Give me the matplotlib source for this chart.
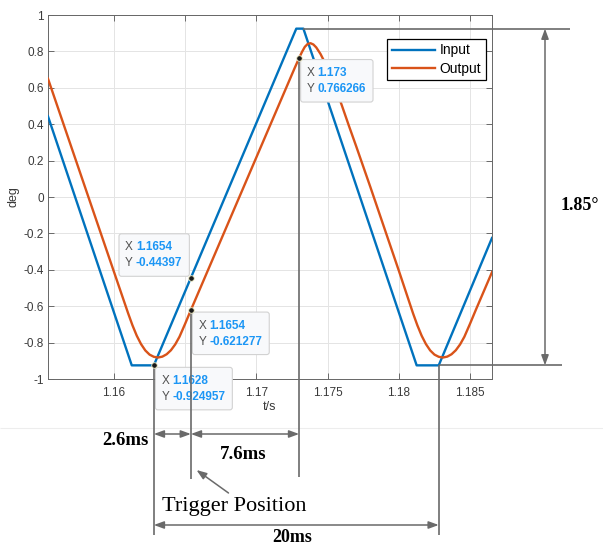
import matplotlib
matplotlib.use('Agg')
import matplotlib.pyplot as plt
from matplotlib.transforms import IdentityTransform
from matplotlib.patches import FancyArrowPatch, FancyBboxPatch
from matplotlib.lines import Line2D

plt.rcParams['font.family'] = ['Liberation Sans', 'DejaVu Sans']

# ---------------- data ----------------
input_t = [1.15537, 1.16125, 1.16280, 1.17280, 1.17330, 1.18125, 1.18280, 1.18654]
input_y = [0.443, -0.925, -0.925, 0.925, 0.925, -0.925, -0.925, -0.225]

output_t = [1.15537, 1.1610, 1.1613, 1.1616, 1.1619, 1.1622, 1.1625, 1.1628, 1.1631,
            1.1634, 1.1637, 1.1640, 1.1643, 1.1646, 1.1650, 1.1654,
            1.1727, 1.1730, 1.1732, 1.1734, 1.1736, 1.1738, 1.1740, 1.1742, 1.1745,
            1.1748, 1.1752, 1.1756, 1.1760, 1.1765, 1.1770, 1.1780, 1.1800,
            1.1810, 1.1813, 1.1816, 1.1819, 1.1822, 1.1825, 1.1828, 1.1831,
            1.1834, 1.1837, 1.1840, 1.1843, 1.1846, 1.1850, 1.1854, 1.18654]
output_y = [0.650, -0.640, -0.705, -0.762, -0.808, -0.843, -0.866, -0.878, -0.882,
            -0.877, -0.864, -0.842, -0.810, -0.768, -0.696, -0.621,
            0.711, 0.764, 0.797, 0.825, 0.841, 0.845, 0.838, 0.822, 0.786,
            0.740, 0.668, 0.590, 0.503, 0.390, 0.280, 0.055, -0.405,
            -0.640, -0.705, -0.762, -0.808, -0.843, -0.866, -0.878, -0.882,
            -0.877, -0.864, -0.842, -0.810, -0.768, -0.696, -0.621, -0.413]

series_labels = ['Input', 'Output']
x_limits = [1.15537, 1.18654]
y_limits = [-1, 1]
xticks = [1.16, 1.165, 1.17, 1.175, 1.18, 1.185]
# the 1.165 label is hidden behind a data tip in the original
xtick_labels = ['1.16', '', '1.17', '1.175', '1.18', '1.185']
yticks = [1, 0.8, 0.6, 0.4, 0.2, 0, -0.2, -0.4, -0.6, -0.8, -1]
ytick_labels = ['1', '0.8', '0.6', '0.4', '0.2', '0', '-0.2', '-0.4', '-0.6', '-0.8', '-1']
x_label = 't/s'
y_label = 'deg'

datatip_x = [1.173, 1.1654, 1.1654, 1.1628]
datatip_y = [0.766266, -0.44397, -0.621277, -0.924957]
datatip_xtext = ['1.173', '1.1654', '1.1654', '1.1628']
datatip_ytext = ['0.766266', '-0.44397', '-0.621277', '-0.924957']

clip_level = 0.925              # input clipping level (+/-)
peak_end_t = 1.1733             # end of input upper plateau
period_end_t = 1.1828           # trough one period (20 ms) later
amplitude_label = '1.85°'
interval_labels = ['2.6ms', '7.6ms', '20ms']
trigger_label = 'Trigger Position'

# ---------------- layout / style ----------------
W, H = 603, 547
BLUE = '#0072BD'
ORANGE = '#D95319'
ANN = '#6a6a6a'
TIPBLUE = '#1c96f5'

fig = plt.figure(figsize=(W / 100, H / 100), dpi=100)
fig.patch.set_facecolor('white')
ax = fig.add_axes([48 / W, 1 - 379 / H, 444 / W, 364 / H])

ax.plot(input_t, input_y, color=BLUE, lw=1.7, label=series_labels[0], zorder=3)
ax.plot(output_t, output_y, color=ORANGE, lw=1.7, label=series_labels[1], zorder=3)
ax.set_xlim(*x_limits)
ax.set_ylim(*y_limits)
ax.set_xticks(xticks, labels=xtick_labels)
ax.set_yticks(yticks, labels=ytick_labels)
ax.grid(True, color='#e4e4e4', lw=0.7)
ax.set_axisbelow(True)
ax.tick_params(direction='in', top=True, right=True, length=4, width=0.6,
               color='#555555', labelcolor='#3a3a3a', labelsize=8.5)
ax.tick_params(axis='x', pad=6)
ax.tick_params(axis='y', pad=3)
for s in ax.spines.values():
    s.set_color('#666666')
    s.set_linewidth(0.7)
ax.set_xlabel(x_label, fontsize=9, color='#3a3a3a')
ax.xaxis.set_label_coords(0.5, (379 - 401) / 364)
ax.set_ylabel(y_label, fontsize=9, color='#3a3a3a')
ax.yaxis.set_label_coords((19 - 48) / 444, 0.5)

leg = ax.legend(loc='upper right', bbox_to_anchor=((486 - 48) / 444, (379 - 38.5) / 364),
                frameon=True, fancybox=False, framealpha=1, edgecolor='black',
                fontsize=10, handlelength=3.1, handletextpad=0.35, borderpad=0.35,
                labelspacing=0.3, borderaxespad=0)
leg.get_frame().set_linewidth(0.9)


def D(x, y):
    return ax.transData.transform((x, y))


def py(ypx):
    return H - ypx


def line(x0, y0, x1, y1, **kw):
    fig.add_artist(Line2D([x0, x1], [y0, y1], transform=IdentityTransform(),
                          color=kw.get('color', ANN), lw=kw.get('lw', 1.2),
                          zorder=kw.get('zorder', 4), solid_capstyle='butt'))


def arrow(p0, p1, style='<|-|>'):
    a = FancyArrowPatch(p0, p1, transform=IdentityTransform(),
                        arrowstyle=style + ',head_length=0.6,head_width=0.22',
                        mutation_scale=10, color=ANN, lw=1.1, shrinkA=0, shrinkB=0,
                        zorder=4)
    fig.add_artist(a)


# faint separator line under the plot
line(0, py(428), W, py(428), color='#ededed', lw=0.8, zorder=0.5)

# ---------------- data tips ----------------
renderer = fig.canvas.get_renderer()
tip_dirs = ['se', 'nw', 'se', 'se']
for tx, ty, xs, ys, d in zip(datatip_x, datatip_y, datatip_xtext, datatip_ytext, tip_dirs):
    px, pyy = D(tx, ty)
    hbox = 42.5
    tmp = fig.text(0, 0, ys, fontsize=8.5, fontweight='bold', transform=IdentityTransform())
    wv = tmp.get_window_extent(renderer).width
    tmp.remove()
    wbox = 17 + wv + 7
    if d == 'se':
        left, top = px + 1.5, pyy - 2
    else:
        left, top = px - 1.5 - wbox, pyy + 1.5 + hbox
    box = FancyBboxPatch((left, top - hbox), wbox, hbox, transform=IdentityTransform(),
                         boxstyle='round,pad=0,rounding_size=2.5', fc='#f8f9fb',
                         ec='#d2d2d2', lw=0.8, zorder=2.5)
    fig.add_artist(box)
    for lab, val, dy in (('X', xs, 13.5), ('Y', ys, 29.5)):
        fig.text(left + 6, top - dy, lab, fontsize=8.5, color='#505050', va='center',
                 ha='left', transform=IdentityTransform(), zorder=3)
        fig.text(left + 17, top - dy, val, fontsize=8.5, color=TIPBLUE, fontweight='bold',
                 va='center', ha='left', transform=IdentityTransform(), zorder=3)

# ---------------- annotation lines ----------------
x_a, y_a = D(datatip_x[3], datatip_y[3])     # 1.1628 trough
x_b, y_b = D(datatip_x[2], datatip_y[2])     # 1.1654 trigger (output)
x_c, y_c = D(datatip_x[0], datatip_y[0])     # 1.173 output
x_d, y_d = D(period_end_t, -clip_level)      # next trough
x_p, y_top = D(peak_end_t, clip_level)

line(x_a, y_a, x_a, py(535))
line(x_b, y_b, x_b, py(479))
line(x_c, y_c, x_c, py(477))
line(x_d, y_d, x_d, py(535))
line(x_p, y_top, 570, y_top)
line(x_d, y_d, 562, y_d)

# amplitude arrow
arrow((545, y_top), (545, y_d))
fig.text(580, py(210), amplitude_label, fontsize=13, fontweight='bold', ha='center',
         va='baseline', family='Liberation Serif', transform=IdentityTransform())

# interval arrows
arrow((x_a, py(434)), (x_b, py(434)))
arrow((x_b, py(434)), (x_c, py(434)))
arrow((x_a, py(525)), (x_d, py(525)))
fig.text(125, py(445), interval_labels[0], fontsize=13.5, fontweight='bold', ha='center',
         va='baseline', family='Liberation Serif', transform=IdentityTransform())
fig.text(243, py(459), interval_labels[1], fontsize=13.5, fontweight='bold', ha='center',
         va='baseline', family='Liberation Serif', transform=IdentityTransform())
fig.text(292, py(542.5), interval_labels[2], fontsize=13, fontweight='bold', ha='center',
         va='baseline', family='Liberation Serif', transform=IdentityTransform())

# trigger arrow
arrow((228.5, py(493)), (196.5, py(470)), style='-|>')
fig.text(234, py(511.5), trigger_label, fontsize=16, ha='center', va='baseline',
         family='Liberation Serif', transform=IdentityTransform())

# data tip markers
for tx, ty in zip(datatip_x, datatip_y):
    mx, my = D(tx, ty)
    fig.add_artist(Line2D([mx], [my], transform=IdentityTransform(), marker='o', ms=4,
                          mfc='#1a1a1a', mec='#f3efc6', mew=0.6, ls='none', zorder=6))

fig.savefig('out.png', dpi=100)
